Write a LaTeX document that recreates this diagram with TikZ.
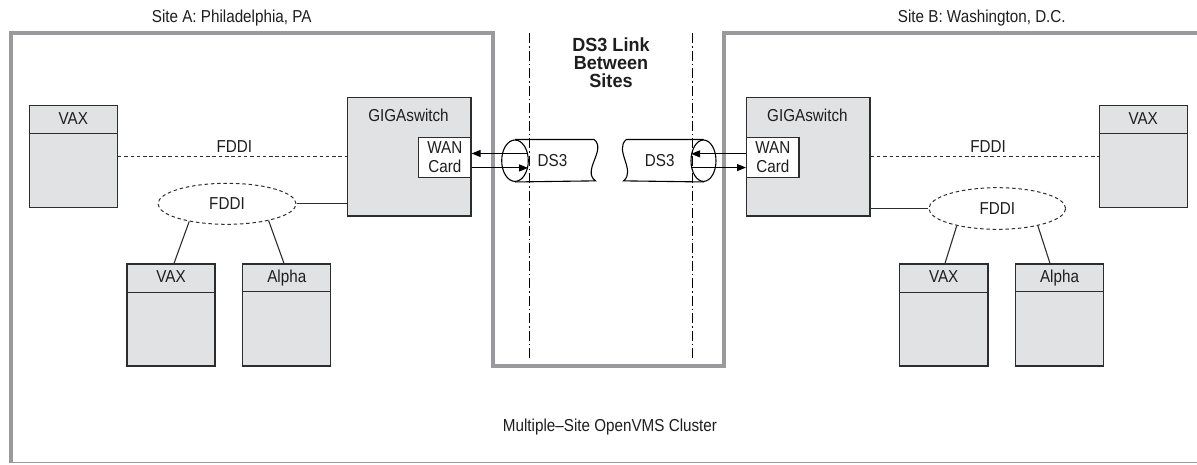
\documentclass[tikz,border=0pt]{standalone}
\usepackage{fontspec}
\setmainfont{Liberation Sans}[FakeStretch=0.88, BoldFeatures={FakeStretch=0.95}]
\usetikzlibrary{shapes.geometric,arrows.meta,calc}
\definecolor{boxgray}{RGB}{225,226,228}
\definecolor{edgec}{RGB}{45,45,45}
\definecolor{bound}{RGB}{154,154,156}
\definecolor{txt}{RGB}{30,30,30}
\begin{document}
\begin{tikzpicture}[x=1pt,y=-1pt,
  font=\fontsize{17.3}{18.4}\selectfont, text=txt,
  comp/.style={draw=edgec,line width=1.3pt,fill=boxgray,minimum width=88pt,minimum height=102pt,inner sep=0pt},
  swbox/.style={draw=edgec,line width=1.3pt,fill=boxgray,minimum width=123.3pt,minimum height=118.7pt,inner sep=0pt},
  wanbox/.style={draw=edgec,line width=1.3pt,fill=white,minimum width=52.3pt,minimum height=40pt,inner sep=0pt,align=center},
  lab/.style={anchor=base,inner sep=0pt},
  fring/.style={draw=edgec,line width=1pt,dash pattern=on 3.5pt off 2.8pt,ellipse,inner sep=0pt},
  fline/.style={draw=edgec,line width=1pt,dash pattern=on 3.5pt off 2.8pt},
  link/.style={draw=edgec,line width=1.1pt},
  tube/.style={draw=black,line width=1.1pt,ellipse,inner sep=0pt,minimum height=41.4pt},
  arr/.style={draw=black,line width=1.1pt,-{Triangle[length=9pt,width=7pt]}},
  dashdot/.style={draw=black,line width=1pt,dash pattern=on 10pt off 3pt on 1.5pt off 3pt},
  boundary/.style={draw=bound,line width=4pt,line join=miter}
]
\useasboundingbox (0,0) rectangle (1197,464);

% site boundaries
\draw[boundary] (10.5,463) -- (10.5,33) -- (493.3,33) -- (493.3,365.5) -- (723.7,365.5) -- (723.7,33) -- (1199,33);
\draw[draw=bound,line width=1.3pt] (8.5,462.8) -- (1197,462.8);

% labels
\node[lab] (siteA) at (231.7,22.7) {Site A: Philadelphia, PA};
\node[lab] (siteB) at (981.8,22.7) {Site B: Washington, D.C.};
\node[anchor=north,inner sep=0pt,align=center,font=\fontsize{19}{18.2}\selectfont\bfseries] (title) at (611,37.4) {DS3 Link\\Between\\Sites};
\node[lab] (cluster) at (610,431.7) {Multiple–Site OpenVMS Cluster};

% dash-dot lines
\coordinate (ddA1) at (529,33);
\coordinate (ddA2) at (529,360);
\coordinate (ddB1) at (692.3,33);
\coordinate (ddB2) at (692.3,360);
\draw[dashdot] (ddA1) -- (ddA2);
\draw[dashdot] (ddB1) -- (ddB2);

% ---------- Site A ----------
\node[comp] (vaxA1) at (73.3,156.7) {};
\draw[link] ($(vaxA1.north west)+(0,28)$) -- ($(vaxA1.north east)+(0,28)$);
\node[lab] (vaxA1t) at (73.3,124) {VAX};

\node[swbox] (gigaA) at (409.3,156.7) {};
\node[lab] (gigaAt) at (408.5,121.7) {GIGAswitch};
\node[wanbox] (wanA) at (444.8,157.3) {WAN\\Card};

\draw[fline] (vaxA1.east) -- (gigaA.west);
\node[lab] (fddiAt) at (234.3,152.3) {FDDI};

\node[fring,minimum width=138pt,minimum height=41pt] (fddiA) at (227,203.8) {FDDI};
\draw[link] (fddiA.east) -- (fddiA.east -| gigaA.west);

\node[comp] (vaxA2) at (171,315) {};
\draw[link] ($(vaxA2.north west)+(0,29)$) -- ($(vaxA2.north east)+(0,29)$);
\node[lab] (vaxA2t) at (171,282.3) {VAX};
\node[comp] (alphaA) at (286.8,315) {};
\draw[link] ($(alphaA.north west)+(0,28.5)$) -- ($(alphaA.north east)+(0,28.5)$);
\node[lab] (alphaAt) at (286.8,282.3) {Alpha};

\draw[link] (fddiA.205) -- ($(vaxA2.north)+(3,0)$);
\draw[link] (fddiA.338) -- ($(alphaA.north)+(-2.8,0)$);

% ---------- Site B ----------
\node[swbox] (gigaB) at (808.3,156.7) {};
\node[lab] (gigaBt) at (807.4,121.7) {GIGAswitch};
\node[wanbox] (wanB) at (772.8,157.3) {WAN\\Card};

\node[comp] (vaxB1) at (1143.2,156.7) {};
\draw[link] ($(vaxB1.north west)+(0,28)$) -- ($(vaxB1.north east)+(0,28)$);
\node[lab] (vaxB1t) at (1143.2,124) {VAX};

\draw[fline] (gigaB.east) -- (vaxB1.west);
\node[lab] (fddiBt) at (988,152.3) {FDDI};

\node[fring,minimum width=136.7pt,minimum height=41.6pt] (fddiB) at (997.3,208.5) {FDDI};
\draw[link] (gigaB.east |- fddiB.west) -- (fddiB.west);

\node[comp,minimum width=88.7pt] (vaxB2) at (943.7,315) {};
\draw[link] ($(vaxB2.north west)+(0,29)$) -- ($(vaxB2.north east)+(0,29)$);
\node[lab] (vaxB2t) at (943.7,282.3) {VAX};
\node[comp] (alphaB) at (1059.5,315) {};
\draw[link] ($(alphaB.north west)+(0,28.5)$) -- ($(alphaB.north east)+(0,28.5)$);
\node[lab] (alphaBt) at (1059.5,282.3) {Alpha};

\draw[link] (fddiB.203.5) -- ($(vaxB2.north)+(1.3,0)$);
\draw[link] (fddiB.337) -- ($(alphaB.north)+(-9.5,0)$);

% ---------- DS3 tubes ----------
\node[tube,minimum width=26.6pt] (tubeA) at (515,160.7) {};
\draw[line width=1.1pt] (tubeA.north) -- ++(79,0) .. controls +(13,10) and +(-14,-10) .. ++(1.5,41.4) -- (tubeA.south);
\node[lab] (ds3A) at (552.5,166.7) {DS3};

\node[tube,minimum width=25pt] (tubeB) at (703.5,160.7) {};
\draw[line width=1.1pt] (tubeB.north) -- ++(-77,0) .. controls +(-13,10) and +(13,-10) .. ++(-3,41.4) -- (tubeB.south);
\node[lab] (ds3B) at (659.7,166.7) {DS3};

\draw[arr] (tubeA.29) -- (wanA.east |- tubeA.29);
\draw[arr] (wanA.east |- tubeA.331) -- (tubeA.331);
\draw[arr] (wanB.west |- tubeB.151) -- (tubeB.151);
\draw[arr] (tubeB.209) -- (wanB.west |- tubeB.209);
\end{tikzpicture}
\end{document}
